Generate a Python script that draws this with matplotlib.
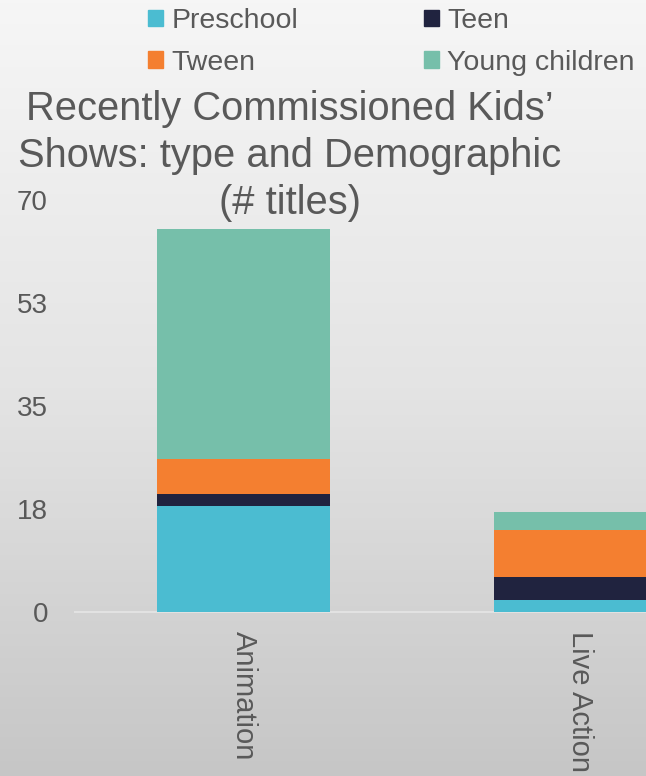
import numpy as np
import matplotlib.pyplot as plt
from matplotlib.patches import Patch
from matplotlib.colors import LinearSegmentedColormap

plt.rcParams['font.family'] = ['Liberation Sans', 'DejaVu Sans']

# ---- data ----
categories = ['Animation', 'Live Action']
preschool = [18, 2]
teen = [2, 4]
tween = [6, 8]
young_children = [39, 3]

series = [
    ('Preschool', preschool, '#4BBCD1'),
    ('Teen', teen, '#20233F'),
    ('Tween', tween, '#F47F30'),
    ('Young children', young_children, '#76BFAA'),
]
yticks = [0, 18, 35, 53, 70]
title_lines = ["Recently Commissioned Kids’", "Shows: type and Demographic", "(# titles)"]
text_color = '#595959'

W, H = 646, 776
fig = plt.figure(figsize=(W / 100, H / 100), dpi=100)

# gray gradient backdrop
bg = fig.add_axes([0, 0, 1, 1], zorder=-10)
grad = np.linspace(0, 1, 256)[:, None]
cmap = LinearSegmentedColormap.from_list('bg', ['#f6f6f6', '#e4e4e4', '#c6c6c6'])
bg.imshow(grad, aspect='auto', cmap=cmap, extent=[0, 1, 0, 1])
bg.axis('off')

ax = fig.add_axes([75 / W, 1 - 612 / H, 1.043, 412 / H])
ax.set_facecolor('none')

x = np.arange(len(categories))
bottom = np.zeros(len(categories))
for name, vals, color in series:
    ax.bar(x, vals, width=0.513, bottom=bottom, color=color, label=name, zorder=3)
    bottom += np.array(vals)

ax.set_xlim(-0.5, 1.5)
ax.set_ylim(0, 70)
ax.set_yticks(np.linspace(0, 70, 5))
ax.set_yticklabels([str(v) for v in yticks])
ax.set_xticks(x)
ax.set_xticklabels(categories, rotation=270)
ax.tick_params(axis='y', length=0, pad=19.5, labelsize=20, labelcolor=text_color)
ax.tick_params(axis='x', length=0, pad=14, labelsize=21, labelcolor=text_color)
for s in ['top', 'right', 'left']:
    ax.spines[s].set_visible(False)
ax.spines['bottom'].set_color('#e2e2e2')
ax.spines['bottom'].set_linewidth(1.5)

# title, one line at a time
for i, line in enumerate(title_lines):
    fig.text(290 / W, 1 - (120 + 47 * i) / H, line, ha='center', va='baseline',
             fontsize=28.7, color=text_color)

# legend: two rows, two columns
handles = [Patch(color=c) for _, _, c in series]
labels = [n for n, _, _ in series]
order = [0, 2, 1, 3]
fig.legend([handles[i] for i in order], [labels[i] for i in order], ncol=2,
           loc='upper left', bbox_to_anchor=(148 / W, 1 - 8 / H), frameon=False,
           fontsize=20.5, labelcolor=text_color, handlelength=0.53, handleheight=0.53,
           handletextpad=0.3, columnspacing=4.4, labelspacing=0.55, borderaxespad=0,
           borderpad=0)

fig.savefig('out.png', dpi=100)
